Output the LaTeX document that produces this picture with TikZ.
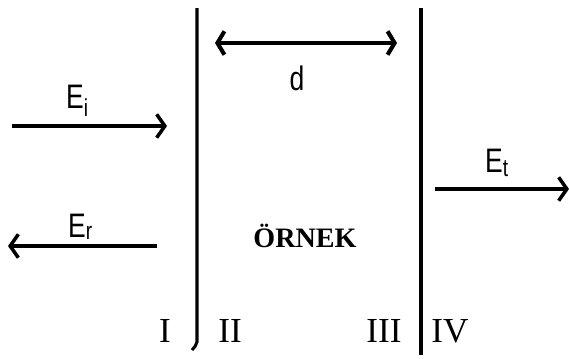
\documentclass[tikz,border=0pt]{standalone}
\usepackage{fontspec}
\setmainfont{Liberation Serif}
\newfontfamily\labelfont{Liberation Sans}
\usetikzlibrary{arrows.meta}
\newcommand{\fieldsub}[2][7pt]{\raisebox{-#1}{\fontsize{21}{21}\selectfont #2}}

\begin{document}
\begin{tikzpicture}[
	x=0.3mm, y=-0.3mm,
	wave/.style={-{Straight Barb[length=7pt,width=20pt]}, line width=3pt},
	span/.style={{Straight Barb[length=6pt,width=20pt]}-{Straight Barb[length=6pt,width=20pt]}, line width=3.5pt},
	plate/.style={line width=2.6pt},
	elabel/.style={font=\labelfont\fontsize{29}{29}\selectfont, inner sep=0pt, xscale=0.78, transform shape},
	region/.style={font=\fontsize{30}{30}\selectfont, inner sep=0pt},
	sample/.style={font=\bfseries\fontsize{24}{24}\selectfont, inner sep=0pt}
]
\useasboundingbox (0,0) rectangle (569,358);

% Coordinates
\coordinate (lt) at (197,8);
\coordinate (lb) at (197,342);
\coordinate (lh) at (192,350);
\coordinate (rt) at (421,8);
\coordinate (rb) at (421,355);
\coordinate (dl) at (215,43);
\coordinate (dr) at (397,43);
\coordinate (is) at (12,126);
\coordinate (ie) at (167,126);
\coordinate (rs) at (157,246);
\coordinate (re) at (8,246);
\coordinate (ts) at (435,189);
\coordinate (te) at (569,189);

% Nodes
\node[elabel, anchor=base west] (ei) at (66,108) {E\fieldsub{i}};
\node[elabel, anchor=base west] (er) at (68,237) {E\fieldsub[2pt]{r}};
\node[elabel, anchor=base west] (et) at (485,172) {E\fieldsub[4pt]{t}};
\node[elabel, anchor=base] (d) at (297,90) {d};
\node[sample, anchor=base] (ornek) at (305,247) {ÖRNEK};
\node[region, anchor=base] (r1) at (165,342) {I};
\node[region, anchor=base] (r2) at (230,342) {II};
\node[region, anchor=base] (r3) at (384,342) {III};
\node[region, anchor=base] (r4) at (450,342) {IV};

% Edges
\draw[plate] (lt) -- (lb) to[out=-90,in=60] (lh);
\draw[plate] (rt) -- (rb);
\draw[span] (dl) -- (dr);
\draw[wave] (is) -- (ie);
\draw[wave] (rs) -- (re);
\draw[wave] (ts) -- (te);

\end{tikzpicture}
\end{document}
